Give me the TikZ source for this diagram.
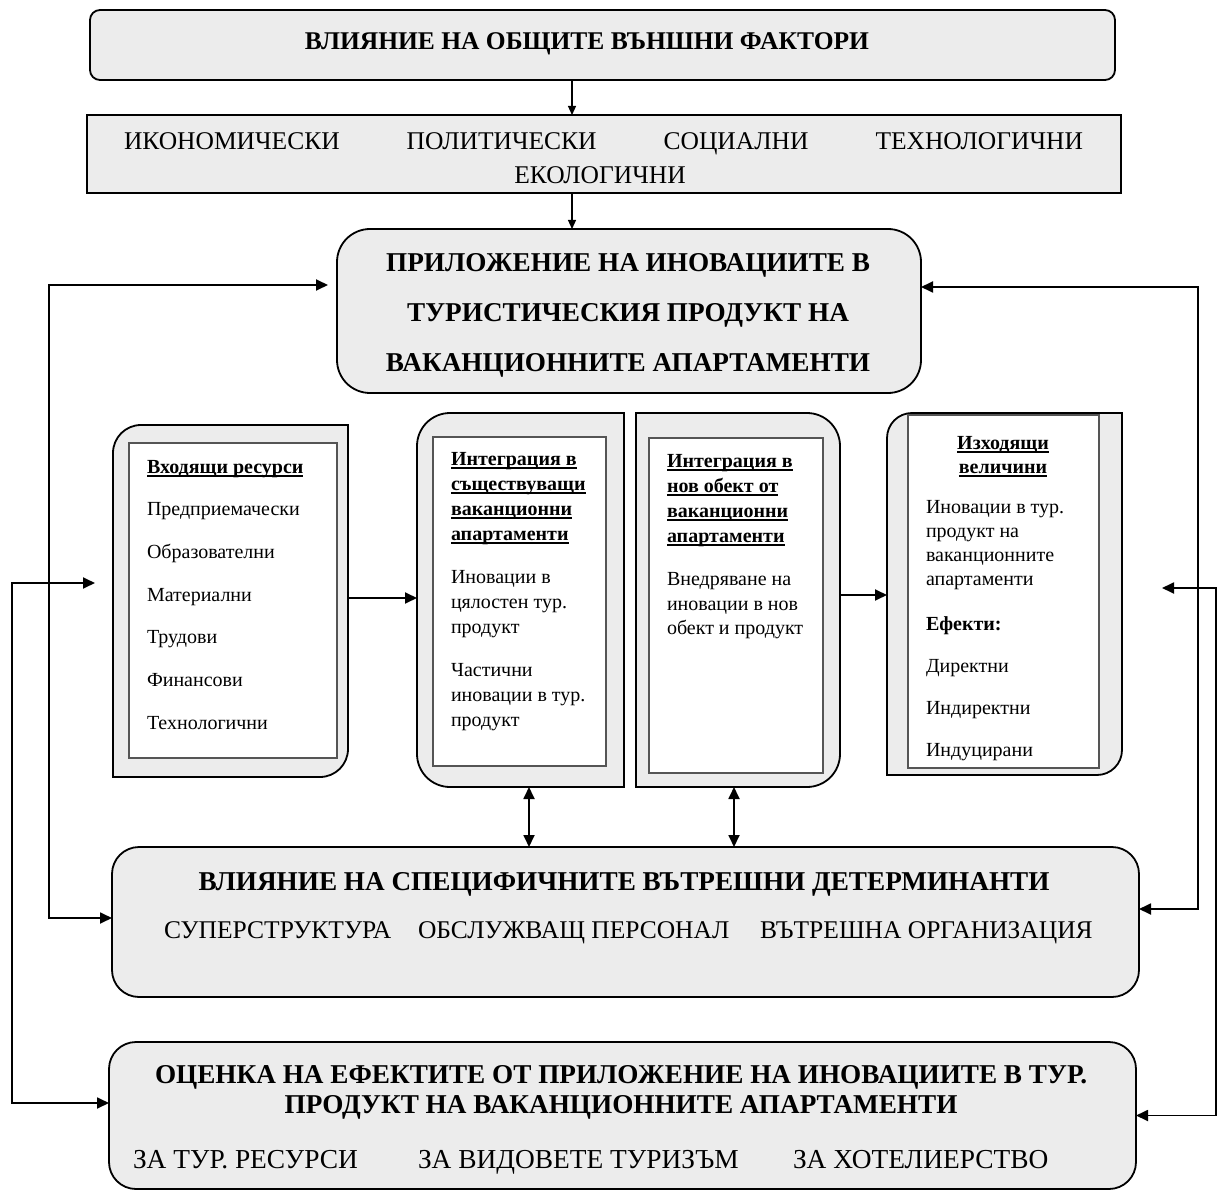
\documentclass[tikz,border=0pt]{standalone}
\usepackage{fontspec}
\setmainfont{Liberation Serif}
\usetikzlibrary{arrows.meta}
\definecolor{boxgray}{RGB}{236,236,236}
\definecolor{innergray}{RGB}{85,85,85}
\newcommand\undl[1]{\leavevmode{\setbox0\hbox{#1}\rlap{\rule[-3.6pt]{\wd0}{1.5pt}}\box0}}
\newcommand\tsz{\fontsize{25.5}{30}\selectfont}
\newcommand\bsz{\fontsize{27.2}{30}\selectfont}
\newcommand\isz{\fontsize{27.4}{30}\selectfont}
% style, x1, y1, x2, y2, rTL, rTR, rBR, rBL
\newcommand\mybox[9]{\draw[#1] (#2,#3+#6) .. controls (#2,#3+0.4477*#6) and (#2+0.4477*#6,#3) .. (#2+#6,#3) -- (#4-#7,#3) .. controls (#4-0.4477*#7,#3) and (#4,#3+0.4477*#7) .. (#4,#3+#7) -- (#4,#5-#8) .. controls (#4,#5-0.4477*#8) and (#4-0.4477*#8,#5) .. (#4-#8,#5) -- (#2+#9,#5) .. controls (#2+0.4477*#9,#5) and (#2,#5-0.4477*#9) .. (#2,#5-#9) -- cycle;}
\tikzset{
  outer/.style={draw=black, line width=1.8pt, fill=boxgray},
  innerbox/.style={draw=innergray, line width=1.3pt, fill=white, inner sep=0pt, outer sep=0pt, rectangle},
  frame/.style={draw=none, inner sep=0pt, outer sep=0pt, rectangle},
  conn/.style={line width=1.8pt, -{Triangle[length=12pt,width=11pt]}},
  connboth/.style={line width=1.8pt, {Triangle[length=12pt,width=11pt]}-{Triangle[length=12pt,width=11pt]}},
  thinconn/.style={line width=1.2pt, -{Triangle[length=9pt,width=8pt]}},
  txt/.style={inner sep=0pt, outer sep=0pt, anchor=base west},
  txtc/.style={inner sep=0pt, outer sep=0pt, anchor=base},
}
\begin{document}
\begin{tikzpicture}[x=1pt,y=-1pt]
\useasboundingbox (0,0) rectangle (1224,1190);
\fill[white] (0,0) rectangle (1224,1190);

% ---------- big boxes ----------
\node[outer, rounded corners=10pt, minimum width=1025pt, minimum height=70pt, inner sep=0pt, outer sep=0pt] (top) at (602.5,45) {};
\node[outer, minimum width=1034pt, minimum height=78pt, inner sep=0pt, outer sep=0pt] (row) at (604,154) {};
\node[outer, rounded corners=33pt, minimum width=584pt, minimum height=164pt, inner sep=0pt, outer sep=0pt] (prilo) at (629,311) {};
\node[outer, rounded corners=27pt, minimum width=1027pt, minimum height=150pt, inner sep=0pt, outer sep=0pt] (vl) at (625.5,922) {};
\node[outer, rounded corners=27pt, minimum width=1027pt, minimum height=147pt, inner sep=0pt, outer sep=0pt] (oc) at (622.5,1115.5) {};

% ---------- middle boxes (partly rounded) ----------
\mybox{outer}{113}{425}{348}{777}{28}{0}{28}{0}
\node[frame, minimum width=235pt, minimum height=352pt] (inbox) at (230.5,601) {};
\node[innerbox, minimum width=208pt, minimum height=315pt] (inboxin) at (233,600.5) {};

\mybox{outer}{417}{413}{624}{787}{33}{0}{0}{33}
\node[frame, minimum width=207pt, minimum height=374pt] (int1) at (520.5,600) {};
\node[innerbox, minimum width=173pt, minimum height=329pt] (int1in) at (519.5,601.5) {};

\mybox{outer}{636}{413}{840}{787}{0}{33}{33}{0}
\node[frame, minimum width=204pt, minimum height=374pt] (int2) at (738,600) {};
\node[innerbox, minimum width=174pt, minimum height=335pt] (int2in) at (736,605.5) {};

\mybox{outer}{887}{413}{1122}{775}{25}{0}{25}{0}
\node[frame, minimum width=235pt, minimum height=362pt] (outbox) at (1004.5,594) {};
\node[innerbox, minimum width=191pt, minimum height=353pt] (outboxin) at (1003.5,591.5) {};

% ---------- texts ----------
\node[txtc, font=\tsz\bfseries] (t1) at (587,50) {ВЛИЯНИЕ НА ОБЩИТЕ ВЪНШНИ ФАКТОРИ};
\node[txtc, font=\tsz] (t2a) at (603.5,150) {\makebox[959pt][s]{ИКОНОМИЧЕСКИ ПОЛИТИЧЕСКИ СОЦИАЛНИ ТЕХНОЛОГИЧНИ}};
\node[txtc, font=\tsz] (t2b) at (600,184) {ЕКОЛОГИЧНИ};

\node[txtc] (t3) at (628,272) {\parbox[t]{580pt}{\centering\fontsize{27.2}{50}\selectfont\bfseries ПРИЛОЖЕНИЕ НА ИНОВАЦИИТЕ В\\ ТУРИСТИЧЕСКИЯ ПРОДУКТ НА\\ ВАКАНЦИОННИТЕ АПАРТАМЕНТИ}};

\node[txt] (t4) at (147,473) {\parbox[t]{185pt}{\raggedright\fontsize{20}{42.7}\selectfont \undl{\textbf{Входящи ресурси}}\\ Предприемачески\\ Образователни\\ Материални\\ Трудови\\ Финансови\\ Технологични}};

\node[txt] (t5) at (451,465) {\parbox[t]{200pt}{\raggedright\fontsize{20}{25}\selectfont \textbf{\undl{Интеграция в}\\ \undl{съществуващи}\\ \undl{ваканционни}\\ \undl{апартаменти}}\\[18pt] Иновации в\\ цялостен тур.\\ продукт\\[18pt] Частични\\ иновации в тур.\\ продукт}};

\node[txt] (t6) at (667,467) {\parbox[t]{200pt}{\raggedright\fontsize{20}{25}\selectfont \textbf{\undl{Интеграция в}\\ \undl{нов обект от}\\ \undl{ваканционни}\\ \undl{апартаменти}}\\[18pt] Внедряване на\\ иновации в нов\\ обект и продукт}};

\node[txtc] (t7a) at (1003,449) {\parbox[t]{180pt}{\centering\fontsize{20}{24}\selectfont\bfseries \undl{Изходящи}\\ \undl{величини}}};
\node[txt] (t7b) at (926,513) {\parbox[t]{180pt}{\raggedright\fontsize{20}{24}\selectfont Иновации в тур.\\ продукт на\\ ваканционните\\ апартаменти\\[21pt] \textbf{Ефекти:}\\[18pt] Директни\\[18pt] Индиректни\\[18pt] Индуцирани}};

\node[txtc, font=\bsz\bfseries] (t8) at (624,890) {ВЛИЯНИЕ НА СПЕЦИФИЧНИТЕ ВЪТРЕШНИ ДЕТЕРМИНАНТИ};
\node[txt, font=\tsz] (t8a) at (164,938) {СУПЕРСТРУКТУРА};
\node[txt, font=\tsz] (t8b) at (418,938) {ОБСЛУЖВАЩ ПЕРСОНАЛ};
\node[txt, font=\tsz] (t8c) at (760,938) {ВЪТРЕШНА ОРГАНИЗАЦИЯ};

\node[txtc] (t9) at (621,1083) {\parbox[t]{1040pt}{\centering\fontsize{27.2}{30}\selectfont\bfseries ОЦЕНКА НА ЕФЕКТИТЕ ОТ ПРИЛОЖЕНИЕ НА ИНОВАЦИИТЕ В ТУР.\\ ПРОДУКТ НА ВАКАНЦИОННИТЕ АПАРТАМЕНТИ}};
\node[txt, font=\isz] (t9a) at (133,1168) {ЗА ТУР. РЕСУРСИ};
\node[txt, font=\isz] (t9b) at (418,1168) {ЗА ВИДОВЕТЕ ТУРИЗЪМ};
\node[txt, font=\isz] (t9c) at (793,1168) {ЗА ХОТЕЛИЕРСТВО};

% ---------- helper coordinates ----------
\coordinate (xA) at (572,0);
\coordinate (xL1) at (49,0);
\coordinate (xL2) at (12,0);
\coordinate (xR1) at (1198,0);
\coordinate (xR2) at (1216,0);
\coordinate (xM1) at (529,0);
\coordinate (xM2) at (734,0);
\coordinate (yR1) at (0,287);
\coordinate (yVL) at (0,918);
\coordinate (yVR) at (0,909);
\coordinate (yOL) at (0,1103);
\coordinate (ya) at (0,598);
\coordinate (yb) at (0,595);
\coordinate (pl) at (328,285);
\coordinate (l2) at (95,583);
\coordinate (r2) at (1162,588);

% ---------- connectors ----------
\draw[thinconn] (top.south -| xA) -- (row.north -| xA);
\draw[thinconn] (row.south -| xA) -- (prilo.north -| xA);
\draw[connboth] (pl) -- (pl -| xL1) |- (vl.west |- yVL);
\draw[connboth] (prilo.east |- yR1) -- (xR1 |- yR1) |- (vl.east |- yVR);
\draw[connboth] (l2) -- (l2 -| xL2) |- (oc.west |- yOL);
\draw[connboth] (r2) -- (r2 -| xR2) |- (oc.east);
\draw[conn] (inbox.east |- ya) -- (int1.west |- ya);
\draw[conn] (int2.east |- yb) -- (outbox.west |- yb);
\draw[connboth] (int1.south -| xM1) -- (vl.north -| xM1);
\draw[connboth] (int2.south -| xM2) -- (vl.north -| xM2);
\end{tikzpicture}
\end{document}
